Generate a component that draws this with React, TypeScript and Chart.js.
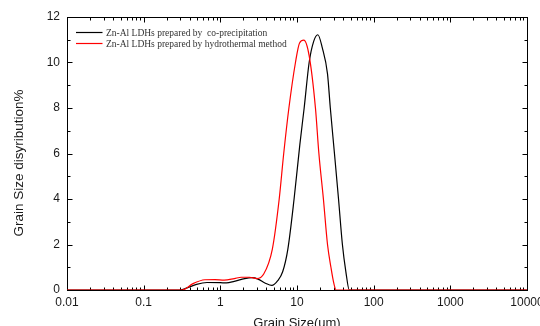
import React, { useEffect, useRef } from 'react';
import { Chart, registerables } from 'chart.js';

Chart.register(...registerables);

// Grain size (um) and distribution (%) — co-precipitation series
const CO_SIZES = [0.01, 0.29, 0.36, 0.49, 0.67, 1.0, 1.2, 1.52, 2.08, 2.6, 3.1, 3.87, 4.7, 5.57, 6.5, 7.6, 9.16, 10.9, 12.4, 14.4, 16.5, 18.7, 21.4, 25.0, 27.2, 30.8, 34.8, 39.1, 43.4, 48.1, 10000];
const CO_VALUES = [0, 0, 0.08, 0.25, 0.33, 0.32, 0.31, 0.38, 0.5, 0.54, 0.48, 0.3, 0.2, 0.4, 0.8, 1.8, 4.0, 6.4, 8.0, 10.0, 10.93, 11.22, 10.64, 9.5, 8.0, 6.0, 4.0, 2.0, 0.8, 0, 0];

// hydrothermal series
const HY_SIZES = [0.01, 0.32, 0.44, 0.63, 0.85, 1.12, 1.52, 1.88, 2.4, 2.99, 3.68, 4.77, 5.86, 6.71, 7.84, 9.55, 10.8, 12.3, 14.4, 17.4, 19.3, 22.1, 25.0, 27.7, 30.2, 32.4, 10000];
const HY_VALUES = [0, 0, 0.28, 0.45, 0.46, 0.43, 0.5, 0.56, 0.56, 0.5, 0.7, 1.8, 4.0, 6.0, 8.0, 10.0, 10.86, 10.98, 10.3, 8.0, 6.0, 4.0, 2.0, 1.0, 0.3, 0, 0];

const SERIES_LABELS = [
  'Zn-Al LDHs prepared by  co-precipitation',
  'Zn-Al LDHs prepared by hydrothermal method',
];
const X_DECADES = [0.01, 0.1, 1, 10, 100, 1000, 10000];
const X_TICK_LABELS = ['0.01', '0.1', '1', '10', '100', '1000', '10000'];
const Y_MIN = 0;
const Y_MAX = 12;
const Y_STEP = 2;
const X_TITLE = 'Grain Size(um)';
const Y_TITLE = 'Grain Size disyribution%';

const SANS = '"Liberation Sans", Arial, sans-serif';
const SERIF = '"Liberation Serif", "Times New Roman", serif';

const decorPlugin = {
  id: 'decor',
  beforeDatasetsDraw(chart: any) {
    const { ctx, chartArea: a, scales } = chart;
    const xs = scales.x;
    const ys = scales.y;
    const L = Math.round(a.left) + 0.5;
    const R = Math.round(a.right) + 0.5;
    const T = Math.round(a.top) + 0.5;
    const B = Math.round(a.bottom) + 0.5;
    ctx.save();
    ctx.strokeStyle = '#000';
    ctx.lineWidth = 1;
    ctx.beginPath();
    // x ticks (bottom & top, inward)
    const xTick = (v: number, len: number) => {
      const px = Math.round(xs.getPixelForValue(v)) + 0.5;
      ctx.moveTo(px, B);
      ctx.lineTo(px, B - len);
      ctx.moveTo(px, T);
      ctx.lineTo(px, T + len);
    };
    for (let e = -2; e <= 4; e++) {
      xTick(Math.pow(10, e), 5);
      if (e < 4) for (let m = 2; m <= 9; m++) xTick(m * Math.pow(10, e), 3);
    }
    // y ticks (left & right, inward)
    for (let v = Y_MIN; v <= Y_MAX; v++) {
      const py = Math.round(ys.getPixelForValue(v)) + 0.5;
      const len = v % Y_STEP === 0 ? 5 : 3;
      ctx.moveTo(L, py);
      ctx.lineTo(L + len, py);
      ctx.moveTo(R, py);
      ctx.lineTo(R - len, py);
    }
    ctx.stroke();
    ctx.strokeRect(L, T, R - L, B - T);
    ctx.restore();
  },
  afterDraw(chart: any) {
    const { ctx, chartArea: a } = chart;
    ctx.save();
    // legend
    chart.data.datasets.forEach((ds: any, i: number) => {
      const y = Math.round(a.top + 14.5 + i * 11.6) + 0.5;
      ctx.strokeStyle = ds.borderColor;
      ctx.lineWidth = 1.2;
      ctx.beginPath();
      ctx.moveTo(a.left + 9, y);
      ctx.lineTo(a.left + 35.5, y);
      ctx.stroke();
      ctx.fillStyle = '#333';
      ctx.font = '9.5px ' + SERIF;
      ctx.textBaseline = 'middle';
      ctx.textAlign = 'left';
      ctx.fillText(ds.label, a.left + 39, y + 0.5);
    });
    // axis titles
    ctx.fillStyle = '#1a1a1a';
    ctx.font = '13px ' + SANS;
    ctx.textAlign = 'center';
    ctx.textBaseline = 'alphabetic';
    ctx.fillText(X_TITLE, (a.left + a.right) / 2, 326.5);
    ctx.translate(23, 163);
    ctx.rotate(-Math.PI / 2);
    ctx.font = '13.5px ' + SANS;
    ctx.fillText(Y_TITLE, 0, 0);
    ctx.restore();
  },
};

export default function App() {
  const canvasRef = useRef<HTMLCanvasElement | null>(null);

  useEffect(() => {
    if (!canvasRef.current) return;
    const chart = new Chart(canvasRef.current, {
      type: 'line',
      data: {
        datasets: [
          {
            label: SERIES_LABELS[0],
            data: CO_SIZES.map((x, i) => ({ x, y: CO_VALUES[i] })),
            borderColor: '#000000',
            borderWidth: 1.2,
            pointRadius: 0,
            fill: false,
            cubicInterpolationMode: 'monotone',
            order: 2,
          },
          {
            label: SERIES_LABELS[1],
            data: HY_SIZES.map((x, i) => ({ x, y: HY_VALUES[i] })),
            borderColor: '#ff0000',
            borderWidth: 1.2,
            pointRadius: 0,
            fill: false,
            cubicInterpolationMode: 'monotone',
            order: 1,
          },
        ],
      },
      options: {
        animation: false,
        responsive: true,
        maintainAspectRatio: false,
        layout: { autoPadding: false, padding: { top: 17, right: 13, left: 0, bottom: 0 } },
        plugins: { legend: { display: false }, tooltip: { enabled: false } },
        scales: {
          x: {
            type: 'logarithmic',
            min: 0.01,
            max: 10000,
            afterBuildTicks: (s: any) => {
              s.ticks = X_DECADES.map((v) => ({ value: v }));
            },
            afterFit: (s: any) => {
              s.height = 36;
              s.paddingLeft = 0;
              s.paddingRight = 0;
            },
            grid: { display: false, drawTicks: false },
            border: { display: false },
            ticks: {
              autoSkip: false,
              maxRotation: 0,
              padding: 5,
              color: '#1a1a1a',
              font: { family: SANS, size: 12 },
              callback: (_v: any, i: number) => X_TICK_LABELS[i],
            },
          },
          y: {
            type: 'linear',
            min: Y_MIN,
            max: Y_MAX,
            afterFit: (s: any) => {
              s.width = 67;
              s.paddingTop = 0;
              s.paddingBottom = 0;
            },
            grid: { display: false, drawTicks: false },
            border: { display: false },
            ticks: {
              stepSize: Y_STEP,
              padding: 7,
              color: '#1a1a1a',
              font: { family: SANS, size: 12 },
            },
          },
        },
      },
      plugins: [decorPlugin],
    } as any);
    return () => chart.destroy();
  }, []);

  return (
    <div style={{ position: 'absolute', left: 0, top: 0, width: 540, height: 326, background: '#fff' }}>
      <canvas ref={canvasRef} />
    </div>
  );
}
